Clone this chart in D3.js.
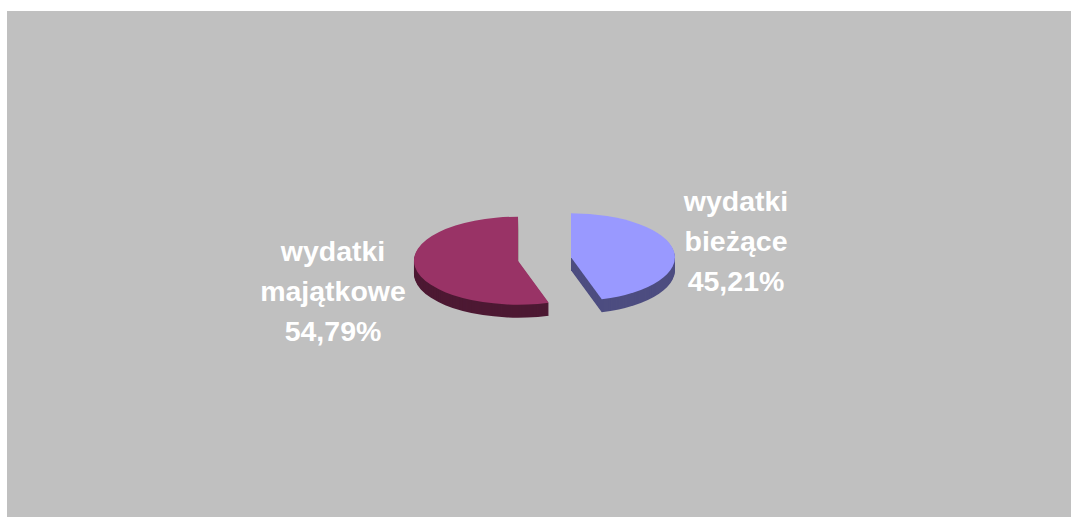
<!DOCTYPE html>
<html>
<head>
<meta charset="utf-8">
<script src="https://cdn.jsdelivr.net/npm/d3@7"></script>
<style>
html, body { margin: 0; padding: 0; background: #fff; overflow: hidden; }
svg { display: block; }
</style>
</head>
<body>
<div id="chart"></div>
<script>
var categories = ['wydatki bieżące', 'wydatki majątkowe']
var values = [45.21, 54.79]
var labelLines = [['wydatki', 'bieżące', '45,21%'], ['wydatki', 'majątkowe', '54,79%']]
var topColors = ['#9999ff', '#993366']
var sideColors = ['#4d4d80', '#4d1933']

var width = 1071, height = 517

// plot area, grey box touches the right and bottom edge
var plot = {x: 7, y: 11, w: 1064, h: 506}

// pie geometry: flattened ellipse, pulled apart along the middle of each slice
var cx = 544.5, cy = 259
var rx = 104, ry = 44
var explode = 0.2576
var depth = 13

var labelX = [736, 333]
var labelY = [211, 261]
var lineGap = 40

var svg = d3.select('#chart')
    .append('svg')
    .attr('width', width)
    .attr('height', height)

svg.append('rect')
    .attr('x', plot.x)
    .attr('y', plot.y)
    .attr('width', plot.w)
    .attr('height', plot.h)
    .attr('fill', '#c0c0c0')

var pie = d3.pie().sort(null)
var arc = d3.arc().innerRadius(0).outerRadius(1)

var slices = svg.selectAll('g.slice')
    .data(pie(values))
    .enter()
    .append('g')
    .attr('class', 'slice')
    .attr('transform', function(d) {
        var mid = (d.startAngle + d.endAngle) / 2
        var ox = cx + Math.sin(mid) * rx * explode
        var oy = cy - Math.cos(mid) * ry * explode
        return 'translate(' + ox + ',' + oy + ')'
    })

// side wall: the slice repeated downwards in the dark colour
d3.range(depth, 0, -1).forEach(function(dy) {
    slices.append('path')
        .attr('d', arc)
        .attr('transform', 'translate(0,' + dy + ') scale(' + rx + ',' + ry + ')')
        .attr('fill', function(d, i) { return sideColors[i] })
})

slices.append('path')
    .attr('d', arc)
    .attr('transform', 'scale(' + rx + ',' + ry + ')')
    .attr('fill', function(d, i) { return topColors[i] })

// labels
labelLines.forEach(function(lines, i) {
    svg.append('text')
        .attr('class', 'label')
        .attr('text-anchor', 'middle')
        .attr('font-family', '"Liberation Sans", Arial, sans-serif')
        .attr('font-weight', 'bold')
        .attr('font-size', 28.5)
        .attr('fill', '#fff')
        .selectAll('tspan')
        .data(lines)
        .enter()
        .append('tspan')
        .attr('x', labelX[i])
        .attr('y', function(d, k) { return labelY[i] + k * lineGap })
        .text(function(d) { return d })
})
</script>
</body>
</html>
